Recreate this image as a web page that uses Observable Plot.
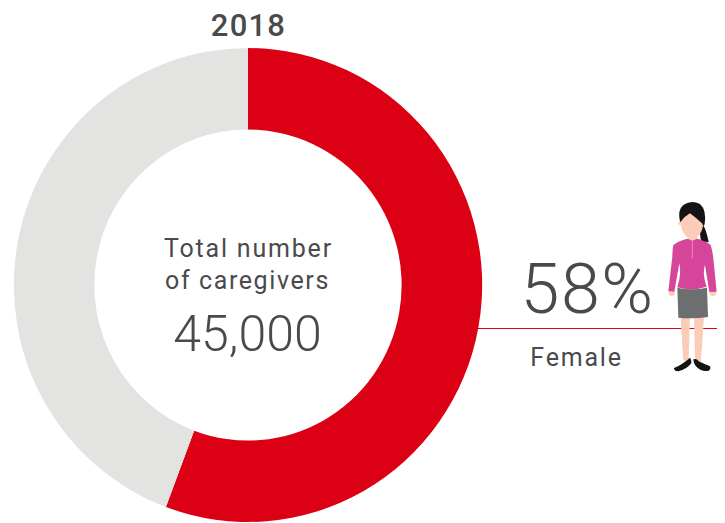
<!DOCTYPE html>
<html>
<head>
<meta charset="utf-8">
<script src="https://cdn.jsdelivr.net/npm/d3@7"></script>
<script src="https://cdn.jsdelivr.net/npm/@observablehq/plot@0.6"></script>
<style>html,body{margin:0;padding:0;background:#fff}svg{display:block}</style>
</head>
<body>
<div id="chart"></div>
<script>
const segments = ["Female", "Other"];
const drawnShares = [55.7, 44.3];
const colors = ["#dc0014", "#e3e3e1"];
const yearLabel = "2018";
const centerLines = ["Total number", "of caregivers"];
const totalLabel = "45,000";
const femaleLabel = "58%";
const femaleName = "Female";

const rows = segments.map((s, i) => ({
  s, color: colors[i],
  start: d3.sum(drawnShares.slice(0, i)),
  end: d3.sum(drawnShares.slice(0, i + 1))
}));
const cx = 248, cy = 285, R = 237, r = 155.5;
const ink = "#4a4a4c";
const font = "Roboto, sans-serif";

function ring(index, scales, values) {
  const g = d3.create("svg:g");
  const arc = d3.arc().innerRadius(r).outerRadius(R);
  for (const i of index) {
    g.append("path")
      .attr("transform", `translate(${cx},${cy}) scale(0.988,1)`)
      .attr("fill", rows[i].color)
      .attr("d", arc({startAngle: values.x1[i], endAngle: values.x2[i]}));
  }
  return g.node();
}

function figure() {
  const g = d3.create("svg:g");
  g.append("line").attr("x1", 478).attr("x2", 717).attr("y1", 328.5).attr("y2", 328.5)
    .attr("stroke", "#e2001a").attr("stroke-width", 1.2);
  const p = g.append("g").attr("transform", "translate(640,190) scale(0.3333)");
  const skin = "#fbcdb8", pink = "#d5469b", grey = "#6d6e70", black = "#141414";
  const path = (d, f) => p.append("path").attr("d", d).attr("fill", f);
  path("M122,380L150,380L147,470L146,512L130,512L127,470Z", skin);
  path("M162,380L192,380L186,470L182,515L166,515L164,470Z", skin);
  p.append("circle").attr("cx", 95).attr("cy", 308).attr("r", 10).attr("fill", skin);
  p.append("circle").attr("cx", 219).attr("cy", 308).attr("r", 10).attr("fill", skin);
  path("M146,120L170,120L172,150L157,158L143,150Z", skin);
  path("M100,165Q120,150 143,146L157,152L172,146Q195,150 212,165Q218,185 220,205L230,305L208,306L195,225Q186,250 200,290Q155,305 112,292Q125,255 118,220L103,305L85,303L97,200Q97,180 100,165Z", pink);
  p.append("line").attr("x1", 157).attr("x2", 157).attr("y1", 152).attr("y2", 205)
    .attr("stroke", "#eea6cd").attr("stroke-width", 2);
  path("M112,293Q155,303 201,293L204,381Q160,388 115,383Z", grey);
  path("M102,534Q125,525 150,503Q156,510 154,520Q140,538 115,544Q102,544 102,534Z", black);
  path("M160,508Q170,504 176,514Q192,522 209,528Q215,535 206,542Q185,546 170,531Q160,521 160,508Z", black);
  path("M182,110Q178,135 183,150Q195,157 206,156Q200,125 190,105Z", black);
  p.append("ellipse").attr("cx", 156).attr("cy", 97).attr("rx", 34).attr("ry", 48).attr("fill", skin);
  p.append("circle").attr("cx", 120).attr("cy", 100).attr("r", 5).attr("fill", skin);
  path("M120,95Q112,60 130,45Q155,28 180,42Q200,60 194,102Q190,112 186,100Q170,85 150,70Q135,78 122,95Z", black);
  return g.node();
}

const label = (text, x, y, size, spacing, weight) => Plot.text([text], {
  text: d => d, frameAnchor: "top-left", dx: x, dy: y, fontSize: size,
  fontFamily: font, fill: ink, textAnchor: "middle", lineAnchor: "bottom", fontWeight: weight,
  render(i, s, v, d, c, next) {
    const node = next(i, s, v, d, c);
    node.style.letterSpacing = spacing + "px";
    return node;
  }
});

const chart = Plot.plot({
  width: 725, height: 523,
  margin: 0,
  style: {background: "#fff", overflow: "hidden"},
  x: {domain: [0, 100], range: [0, 2 * Math.PI], axis: null},
  marks: [
    Plot.barX(rows, {x1: "start", x2: "end", render: ring}),
    figure,
    label(yearLabel, 248, 35, 31, 1.2, 500),
    label(centerLines[0], 248, 256, 25, 1.8, 400),
    label(centerLines[1], 247, 288, 25, 1.6, 400),
    label(totalLabel, 247, 350, 50, 0, 300),
    label(femaleLabel, 587, 312, 70, 1.5, 300),
    label(femaleName, 576, 365, 25, 1.8, 400)
  ]
});
document.getElementById("chart").append(chart);
</script>
</body>
</html>
